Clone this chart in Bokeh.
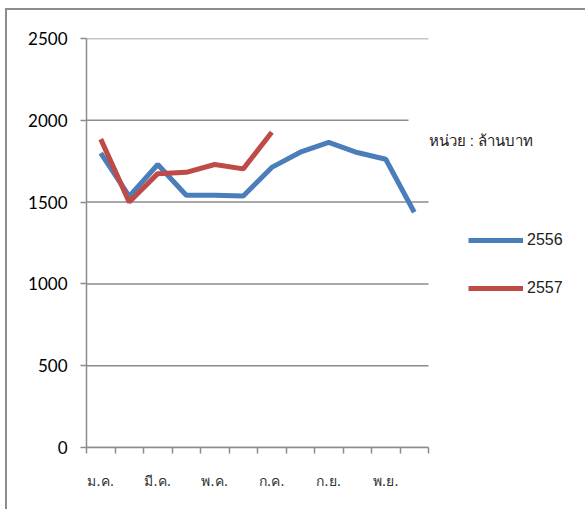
from bokeh.plotting import figure
from bokeh.models import FixedTicker, Legend, LegendItem, Label, Range1d
from bokeh.embed import file_html
from bokeh.resources import INLINE

months = ["ม.ค.", "ก.พ.", "มี.ค.", "เม.ย.", "พ.ค.", "มิ.ย.", "ก.ค.", "ส.ค.", "ก.ย.", "ต.ค.", "พ.ย.", "ธ.ค."]
s2556 = [1800, 1535, 1730, 1542, 1542, 1537, 1712, 1805, 1865, 1803, 1762, 1438]
s2557 = [1885, 1500, 1674, 1682, 1730, 1703, 1927]
y_ticks = [0, 500, 1000, 1500, 2000, 2500]
unit_text = "หน่วย : ล้านบาท"

BLUE = "#4a7ebb"
RED = "#be4b48"
GRID = "#8c8c8c"

n = len(months)
frame_w = 484
px_per_cat = 28.5
x_max = frame_w / px_per_cat

p = figure(frame_width=frame_w, frame_height=409, output_backend="svg", toolbar_location=None,
           x_range=Range1d(0, x_max), y_range=Range1d(0, 2500),
           min_border_left=79, min_border_right=15, min_border_top=28, min_border_bottom=62)
p.styles = {"border-left": "2px solid #8c8c8c", "border-top": "2px solid #8c8c8c",
            "margin-left": "5px", "margin-top": "8px"}
p.outline_line_color = None
p.background_fill_color = "white"
p.border_fill_color = "white"

# horizontal gridlines over the category span
p.xgrid.visible = False
p.ygrid.visible = False
p.segment(x0=0, x1=n, y0=y_ticks, y1=y_ticks, line_color=GRID, line_width=1.5)

xs1 = [i + 0.5 for i in range(len(s2556))]
xs2 = [i + 0.5 for i in range(len(s2557))]
r1 = p.line(xs1, s2556, line_color=BLUE, line_width=5)
r2 = p.line(xs2, s2557, line_color=RED, line_width=5)

p.yaxis.ticker = FixedTicker(ticks=y_ticks)
p.yaxis.axis_line_color = GRID
p.yaxis.axis_line_width = 1.5
p.yaxis.major_tick_line_color = GRID
p.yaxis.major_tick_line_width = 1.5
p.yaxis.major_tick_out = 6
p.yaxis.major_tick_in = 0
p.yaxis.minor_tick_line_color = None
p.yaxis.major_label_text_font = "Lato"
p.yaxis.major_label_text_font_size = "17px"
p.yaxis.major_label_text_color = "black"
p.yaxis.major_label_standoff = 13

label_pos = [i + 0.5 for i in range(0, n, 2)]
p.xaxis.bounds = (0, n)
p.xaxis.ticker = FixedTicker(ticks=label_pos, minor_ticks=list(range(n + 1)))
p.xaxis.major_label_overrides = {i + 0.5: months[i] for i in range(0, n, 2)}
p.xaxis.axis_line_color = GRID
p.xaxis.axis_line_width = 1.5
p.xaxis.major_tick_line_color = None
p.xaxis.minor_tick_line_color = GRID
p.xaxis.minor_tick_line_width = 1.5
p.xaxis.minor_tick_out = 6
p.xaxis.minor_tick_in = 0
p.xaxis.major_label_text_font = "DejaVu Sans"
p.xaxis.major_label_text_font_size = "14px"
p.xaxis.major_label_text_color = "#333333"
p.xaxis.major_label_standoff = 19

unit = Label(x=n, y=1876, text=unit_text, text_baseline="middle", text_align="left",
             text_font="Liberation Sans", text_font_size="15px", text_color="#222222",
             background_fill_color="white", x_offset=-20,
             padding=20)
p.add_layout(unit)

legend = Legend(items=[LegendItem(label="2556", renderers=[r1]),
                       LegendItem(label="2557", renderers=[r2])],
                location=(382, 149), orientation="vertical",
                glyph_width=55, glyph_height=20, label_standoff=4, spacing=28,
                label_text_font="Liberation Sans", label_text_font_size="16px",
                label_text_color="#222222", background_fill_alpha=0,
                border_line_color=None, padding=0, margin=0)
p.add_layout(legend)

open("out.html", "w").write(file_html(p, INLINE))
